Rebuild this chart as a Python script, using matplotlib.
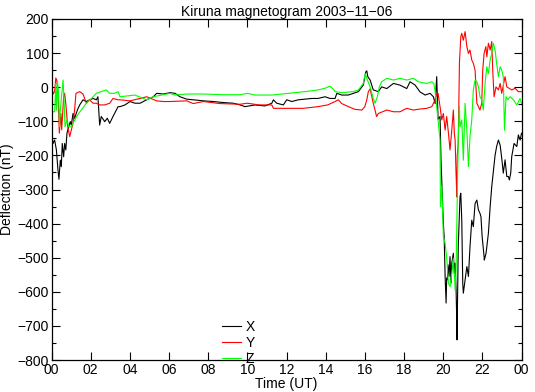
import matplotlib
matplotlib.use("Agg")
import matplotlib.pyplot as plt
from matplotlib.ticker import MultipleLocator, FixedLocator

plt.rcParams['font.family'] = ['Liberation Sans', 'DejaVu Sans']

title = "Kiruna magnetogram 2003\u221211\u221206"
xtick_hours = [0, 2, 4, 6, 8, 10, 12, 14, 16, 18, 20, 22, 24]
xtick_labels = ["00", "02", "04", "06", "08", "10", "12", "14", "16", "18", "20", "22", "00"]

x_hours = [0.00, 0.04, 0.08, 0.16, 0.25, 0.33, 0.38, 0.45, 0.50, 0.55, 0.62, 0.67, 0.73, 0.79,
           0.88, 0.96, 1.01, 1.10, 1.18, 1.32, 1.44, 1.61, 1.78, 1.95, 2.12, 2.29, 2.37, 2.46,
           2.54, 2.72, 2.85, 2.97, 3.14, 3.31, 3.40, 3.50, 3.75, 4.01, 4.26, 4.52, 4.86, 5.20,
           5.37, 5.71, 6.05, 6.31, 6.56, 6.90, 7.24, 7.75, 8.26, 8.77, 9.29, 9.63, 9.88, 10.39,
           10.90, 11.25, 11.33, 11.50, 11.84, 12.01, 12.27, 12.60, 12.95, 13.29, 13.61, 13.97,
           14.22, 14.48, 14.57, 14.82, 15.16, 15.41, 15.67, 15.92, 16.05, 16.10, 16.15, 16.27,
           16.43, 16.69, 16.86, 17.12, 17.46, 17.80, 18.14, 18.31, 18.57, 18.82, 19.08, 19.33,
           19.50, 19.59, 19.67, 19.74, 19.84, 19.89, 19.98, 20.01, 20.05, 20.10, 20.15, 20.18,
           20.21, 20.25, 20.30, 20.35, 20.40, 20.44, 20.52, 20.57, 20.61, 20.66, 20.69, 20.71,
           20.72, 20.77, 20.83, 20.86, 20.90, 20.95, 21.00, 21.03, 21.12, 21.21, 21.29, 21.37,
           21.46, 21.54, 21.63, 21.72, 21.80, 21.88, 21.93, 21.99, 22.09, 22.10, 22.19, 22.31,
           22.40, 22.48, 22.56, 22.65, 22.73, 22.82, 22.91, 23.00, 23.07, 23.16, 23.25, 23.33,
           23.38, 23.45, 23.50, 23.62, 23.76, 23.84, 23.93, 24.00]
x_values = [-172, -150, -165, -155, -184, -243, -270, -214, -233, -165, -204, -165, -184, -135,
            -116, -101, -111, -77, -91, -67, -52, -37, -42, -37, -33, -37, -28, -111,
            -86, -101, -91, -106, -86, -67, -57, -57, -52, -42, -47, -47, -37, -28,
            -18, -20, -16, -18, -28, -35, -37, -40, -42, -45, -47, -52, -57, -52,
            -55, -47, -37, -47, -52, -37, -42, -37, -35, -33, -33, -28,
            -33, -33, -18, -23, -23, -18, -13, 6, 45, 48, 31, 21,
            -8, -13, 1, -4, 11, 6, -4, 16, 6, -14, -23, -18,
            -28, -48, 31, -94, -86, -214, -360, -400, -438, -555, -633, -560,
            -565, -521, -555, -497, -575, -516, -487, -546, -516, -595, -673, -741,
            -683, -468, -370, -321, -311, -390, -575, -604, -565, -526, -555, -468,
            -390, -409, -341, -331, -360, -370, -380, -438, -497, -507, -487, -428,
            -350, -292, -248, -200, -174, -155, -170, -213, -252, -213, -262, -262,
            -272, -252, -204, -165, -174, -140, -155, -135]

y_hours = [0.00, 0.04, 0.08, 0.16, 0.22, 0.27, 0.33, 0.40, 0.48, 0.52, 0.62, 0.67, 0.73, 0.83,
           0.93, 1.10, 1.18, 1.25, 1.44, 1.61, 1.78, 1.95, 2.12, 2.29, 2.46, 2.72, 2.97, 3.14,
           3.40, 3.50, 4.01, 4.52, 4.86, 5.37, 5.71, 6.05, 6.90, 7.24, 7.75, 8.60, 9.63, 10.00,
           10.60, 11.25, 11.33, 12.00, 12.85, 13.61, 14.10, 14.48, 14.65, 14.82, 15.16, 15.50,
           15.85, 16.00, 16.10, 16.18, 16.27, 16.43, 16.52, 16.60, 16.69, 17.12, 17.46, 17.80,
           18.14, 18.48, 18.82, 19.16, 19.42, 19.59, 19.67, 19.74, 19.84, 19.93, 20.01, 20.10,
           20.18, 20.27, 20.35, 20.44, 20.52, 20.57, 20.61, 20.66, 20.70, 20.72, 20.77, 20.83,
           20.90, 20.95, 21.03, 21.12, 21.21, 21.29, 21.37, 21.46, 21.54, 21.63, 21.72, 21.80,
           21.88, 21.97, 22.02, 22.09, 22.18, 22.23, 22.31, 22.40, 22.48, 22.53, 22.60, 22.70,
           22.82, 22.91, 22.99, 23.16, 23.25, 23.50, 23.67, 23.84, 24.00]
y_values = [-15, -5, -20, -13, 27, 21, -18, -135, -77, -125, -28, -18, -48, -116,
            -145, -105, -67, -18, -13, -20, -47, -37, -47, -47, -52, -52, -47, -33,
            -37, -37, -40, -33, -28, -40, -42, -42, -40, -48, -42, -48, -50, -47,
            -52, -52, -62, -62, -62, -57, -52, -42, -37, -48, -57, -65,
            -67, -57, -37, -13, -5, -47, -67, -86, -77, -67, -72, -72,
            -62, -67, -64, -62, -57, -37, -18, -18, -57, -96, -77, -126,
            -86, -135, -184, -126, -67, -135, -155, -257, -322, -200, -165, 70,
            148, 158, 138, 163, 119, 99, 109, 80, 70, 50, -47, -57,
            -67, -47, 50, 99, 119, 89, 129, 109, 134, 50, -28, 1,
            -8, 11, -18, 31, 1, -8, -3, -13, -13]

z_hours = [0.00, 0.02, 0.16, 0.22, 0.25, 0.31, 0.36, 0.41, 0.45, 0.59, 0.64, 0.69, 0.79, 0.88,
           1.01, 1.10, 1.32, 1.52, 1.78, 2.04, 2.29, 2.54, 2.80, 2.97, 3.22, 3.40, 3.50, 4.26,
           4.86, 5.20, 6.05, 6.31, 6.90, 7.75, 8.77, 9.63, 10.00, 10.39, 11.25, 12.10, 12.95,
           13.61, 13.97, 14.22, 14.40, 14.48, 14.82, 15.41, 15.67, 15.92, 16.02, 16.10, 16.27,
           16.43, 16.52, 16.64, 16.74, 16.86, 17.12, 17.46, 17.80, 18.14, 18.48, 18.73, 19.16,
           19.42, 19.52, 19.59, 19.67, 19.84, 19.86, 19.93, 19.98, 20.01, 20.10, 20.18, 20.27,
           20.35, 20.44, 20.52, 20.57, 20.61, 20.66, 20.69, 20.72, 20.77, 20.80, 20.83, 20.86,
           20.95, 21.03, 21.12, 21.21, 21.29, 21.37, 21.46, 21.54, 21.63, 21.72, 21.80, 21.88,
           21.97, 22.05, 22.14, 22.23, 22.31, 22.40, 22.48, 22.56, 22.65, 22.73, 22.82, 22.91,
           22.99, 23.07, 23.13, 23.21, 23.30, 23.42, 23.59, 23.76, 23.93, 24.00]
z_values = [-47, -72, -72, 11, -67, 16, -18, -116, -67, 21, -37, -116, -96, -116,
            -116, -106, -82, -67, -47, -33, -18, -13, -8, -18, -18, -13, -28, -23,
            -37, -28, -18, -23, -20, -20, -22, -22, -18, -23, -23, -18, -13,
            -8, -3, 3, -6, -13, -16, -13, -8, 11, 40, 26, 1,
            -33, -47, -28, 1, 16, 26, 21, 26, 21, 26, 16, 11,
            16, 11, -13, -57, -155, -350, -290, -380, -438, -458, -500, -575,
            -585, -546, -501, -546, -595, -526, -428, -321, -155, -96, -57, -116,
            -96, -214, -47, -126, -233, -145, -96, -8, 21, 16, 1, -28,
            -37, -67, 11, 60, 40, 80, 99, 129, 109, 70, 31, 60,
            50, 31, -126, -28, -37, -28, -37, -52, -33, -47]

fig = plt.figure(figsize=(5.35, 3.92), dpi=100)
ax = fig.add_axes([51.5 / 535, (392 - 360) / 392, 470 / 535, 341 / 392])

ax.plot(x_hours, x_values, color="black", lw=0.8, label="X")
ax.plot(y_hours, y_values, color="#ff0000", lw=0.8, label="Y")
ax.plot(z_hours, z_values, color="#00ff00", lw=0.8, label="Z")

ax.set_xlim(0, 24)
ax.set_ylim(-800, 200)
ax.xaxis.set_major_locator(FixedLocator(xtick_hours))
ax.set_xticklabels(xtick_labels)
ax.yaxis.set_major_locator(MultipleLocator(100))
ax.yaxis.set_minor_locator(MultipleLocator(50))
ax.tick_params(axis="both", which="major", direction="in", length=6, width=0.8,
               top=True, right=True, labelsize=10, pad=2)
ax.tick_params(axis="y", which="minor", direction="in", length=3, width=0.8, right=True)
for s in ax.spines.values():
    s.set_linewidth(0.9)

ax.set_title(title, fontsize=10, pad=2)
ax.set_ylabel("Deflection (nT)", fontsize=10, labelpad=2)
ax.set_xlabel("Time (UT)", fontsize=10, labelpad=0)

ax.legend(loc="upper left", bbox_to_anchor=(0.362, 0.117), frameon=False, fontsize=10,
          handlelength=1.4, handletextpad=0.35, labelspacing=0.15, borderpad=0,
          borderaxespad=0)

fig.savefig("out.png", dpi=100)
